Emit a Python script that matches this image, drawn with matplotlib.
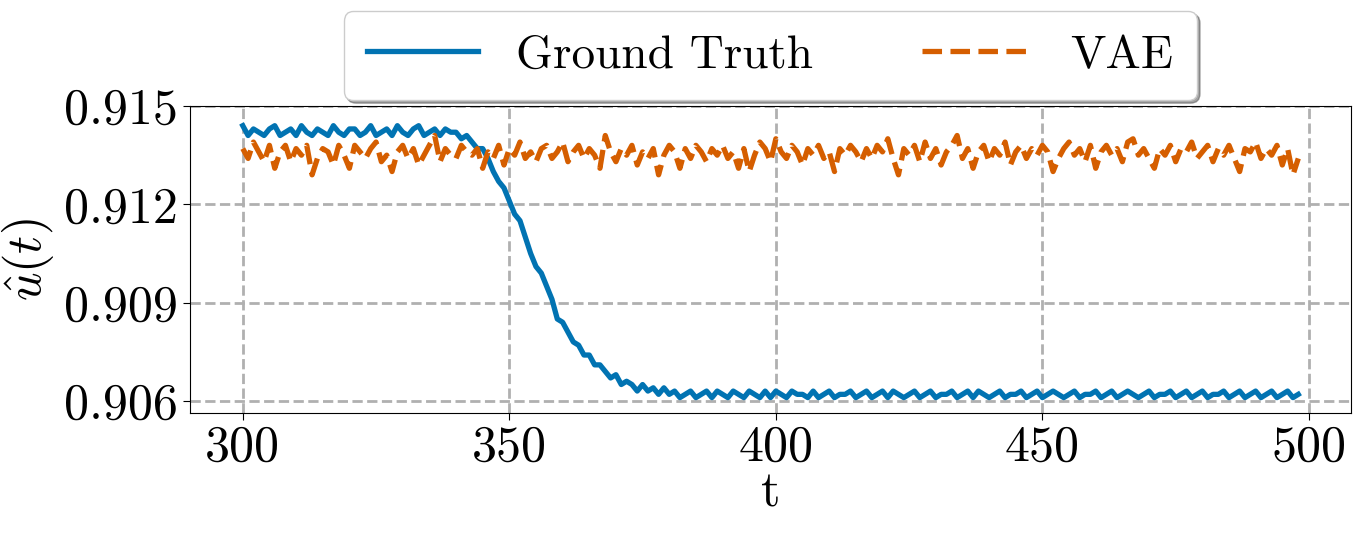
import matplotlib
matplotlib.use("Agg")
import matplotlib.pyplot as plt
import numpy as np

t = list(range(300, 499))

ground_truth = [
    0.9144, 0.9141, 0.9143, 0.9142, 0.9141, 0.9143, 0.9144, 0.9141, 0.9142, 0.9143,
    0.9141, 0.9144, 0.9142, 0.9141, 0.9143, 0.9142, 0.9141, 0.9144, 0.9142, 0.9141,
    0.9143, 0.9143, 0.9141, 0.9142, 0.9144, 0.9141, 0.9142, 0.9143, 0.9141, 0.9144,
    0.9142, 0.9141, 0.9143, 0.9144, 0.9141, 0.9142, 0.9143, 0.9141, 0.9143, 0.9142,
    0.9142, 0.9140, 0.9141, 0.9139, 0.9137, 0.9137, 0.9134, 0.9130, 0.9127, 0.9125,
    0.9121, 0.9117, 0.9115, 0.9110, 0.9105, 0.9101, 0.9099, 0.9095, 0.9091, 0.9085,
    0.9084, 0.9081, 0.9078, 0.9077, 0.9074, 0.9074, 0.9071, 0.9071, 0.9069, 0.9067,
    0.9068, 0.9065, 0.9066, 0.9065, 0.9063, 0.9065, 0.9063, 0.9064, 0.9062, 0.9064,
    0.9062,
    0.9063, 0.9061, 0.9062, 0.9063, 0.9061, 0.9062, 0.9063, 0.9061, 0.9063, 0.9062,
    0.9061, 0.9063, 0.9062, 0.9061, 0.9063, 0.9062, 0.9061, 0.9063, 0.9061, 0.9063,
    0.9062, 0.9061, 0.9063, 0.9062, 0.9062, 0.9061, 0.9063, 0.9061, 0.9062, 0.9063,
    0.9061, 0.9062, 0.9062, 0.9063, 0.9061, 0.9062, 0.9063, 0.9061, 0.9062, 0.9063,
    0.9061, 0.9063, 0.9062, 0.9061, 0.9062, 0.9063, 0.9061, 0.9062, 0.9063, 0.9061,
    0.9062, 0.9062, 0.9063, 0.9061, 0.9062, 0.9063, 0.9061, 0.9063, 0.9062, 0.9061,
    0.9062, 0.9063, 0.9061, 0.9062, 0.9062, 0.9063, 0.9061, 0.9062, 0.9063, 0.9061,
    0.9062, 0.9063, 0.9062, 0.9061, 0.9062, 0.9063, 0.9061, 0.9062, 0.9062, 0.9063,
    0.9061, 0.9062, 0.9063, 0.9061, 0.9062, 0.9063, 0.9062, 0.9061, 0.9062, 0.9063,
    0.9061, 0.9062, 0.9062, 0.9063, 0.9061, 0.9062, 0.9063, 0.9061, 0.9062, 0.9063,
    0.9061, 0.9062, 0.9062, 0.9063, 0.9061, 0.9062, 0.9063, 0.9061, 0.9062, 0.9063,
    0.9061, 0.9062, 0.9063, 0.9061, 0.9062, 0.9063, 0.9061, 0.9062,
]

vae = [
    0.9137, 0.9134, 0.9139, 0.9136, 0.9133, 0.9138, 0.9131, 0.9136, 0.9138, 0.9133,
    0.9137, 0.9135, 0.9138, 0.9129, 0.9134, 0.9137, 0.9136, 0.9132, 0.9138, 0.9135,
    0.9131, 0.9138, 0.9136, 0.9134, 0.9137, 0.9139, 0.9133, 0.9135, 0.9130, 0.9136,
    0.9138, 0.9134, 0.9137, 0.9132, 0.9135, 0.9138, 0.9141, 0.9133, 0.9137, 0.9135,
    0.9134, 0.9138, 0.9136, 0.9135, 0.9137, 0.9131, 0.9136, 0.9134, 0.9138, 0.9132,
    0.9137, 0.9135, 0.9139, 0.9134, 0.9136, 0.9133, 0.9137, 0.9138, 0.9134, 0.9136,
    0.9139, 0.9133, 0.9136, 0.9138, 0.9134, 0.9137, 0.9135, 0.9131, 0.9141, 0.9136,
    0.9133, 0.9137, 0.9135, 0.9138, 0.9132, 0.9136, 0.9134, 0.9137, 0.9129, 0.9135,
    0.9138, 0.9136, 0.9131, 0.9137, 0.9134, 0.9138, 0.9136, 0.9133, 0.9137, 0.9135,
    0.9138, 0.9134, 0.9136, 0.9131, 0.9137, 0.9130, 0.9135, 0.9139, 0.9137, 0.9133,
    0.9140, 0.9136, 0.9134, 0.9138, 0.9136, 0.9132, 0.9137, 0.9135, 0.9138, 0.9134,
    0.9136, 0.9130, 0.9137, 0.9135, 0.9138, 0.9136, 0.9133, 0.9137, 0.9134, 0.9138,
    0.9136, 0.9140, 0.9134, 0.9129, 0.9137, 0.9135, 0.9138, 0.9133, 0.9139, 0.9134,
    0.9137, 0.9132, 0.9136, 0.9138, 0.9141, 0.9134, 0.9137, 0.9131, 0.9136, 0.9138,
    0.9133, 0.9137, 0.9135, 0.9139, 0.9132, 0.9136, 0.9138, 0.9134, 0.9137, 0.9135,
    0.9138, 0.9136, 0.9130, 0.9134, 0.9137, 0.9139, 0.9135, 0.9137, 0.9133, 0.9138,
    0.9131, 0.9136, 0.9138, 0.9135, 0.9137, 0.9133, 0.9139, 0.9140, 0.9135, 0.9137,
    0.9134, 0.9131, 0.9137, 0.9135, 0.9138, 0.9133, 0.9137, 0.9136, 0.9139, 0.9134,
    0.9136, 0.9138, 0.9133, 0.9137, 0.9135, 0.9138, 0.9134, 0.9130, 0.9137, 0.9136,
    0.9139, 0.9134, 0.9137, 0.9135, 0.9138, 0.9132, 0.9137, 0.9129, 0.9134,
]

xticks = [300, 350, 400, 450, 500]
yticks = [0.906, 0.909, 0.912, 0.915]

plt.rcParams['font.family'] = 'serif'
plt.rcParams['font.serif'] = ['cmr10']
plt.rcParams['mathtext.fontset'] = 'cm'
plt.rcParams['axes.formatter.use_mathtext'] = True

fig = plt.figure(figsize=(13.61, 5.33), dpi=100)
ax = fig.add_axes([0.1396, 0.2251, 0.8531, 0.5760])

ax.plot(t, ground_truth, color='#0173b2', lw=3.8, label='Ground Truth')
ax.plot(t, vae, color='#d55e00', lw=3.8, ls='--', label='VAE')

ax.set_xticks(xticks)
ax.set_xticklabels([str(v) for v in xticks])
ax.set_yticks(yticks)
ax.set_yticklabels([f"{v:.3f}" for v in yticks])
ax.set_ylim(0.90563, 0.9150)
ax.tick_params(labelsize=36, length=5)
ax.set_xlabel('t', fontsize=36, labelpad=0)
ax.set_ylabel(r'$\hat{u}(t)$', fontsize=36, labelpad=6)
ax.grid(True, color='#b0b0b0', ls='--', lw=2.0)

leg = ax.legend(loc='lower center', bbox_to_anchor=(0.5, 1.0), ncol=2,
                fontsize=34, shadow=True, fancybox=True, handlelength=2.35,
                columnspacing=2.3, borderpad=0.5, borderaxespad=0.12)

fig.savefig('out.png', dpi=100)
